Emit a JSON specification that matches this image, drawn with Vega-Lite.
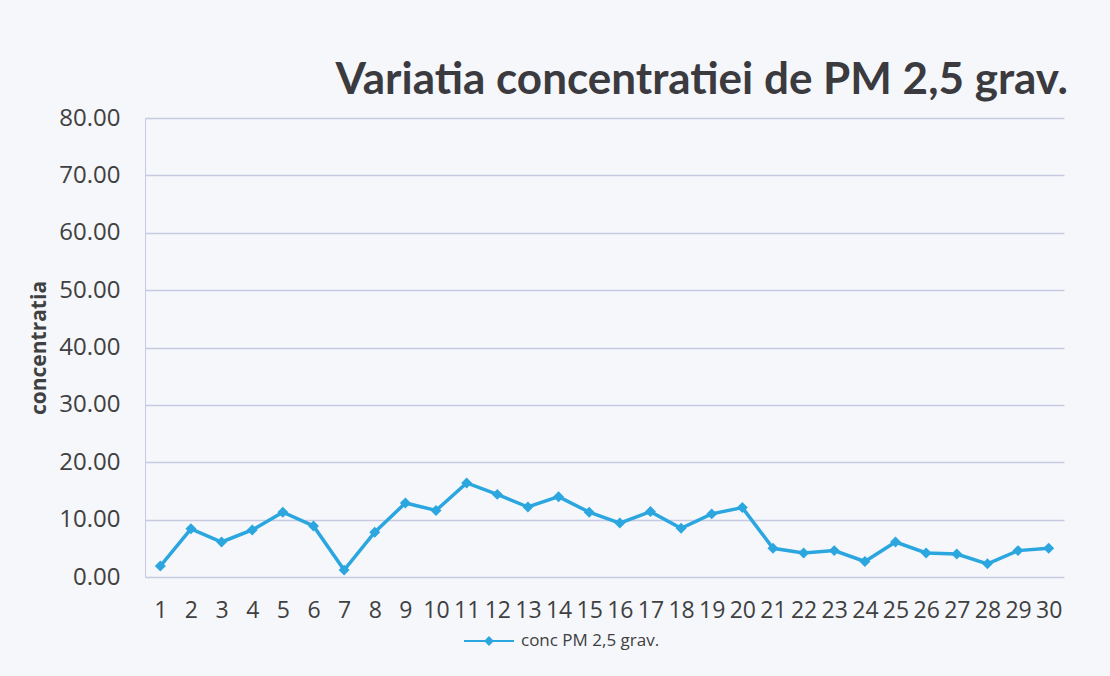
{
  "$schema": "https://vega.github.io/schema/vega-lite/v6.json",
  "autosize": {"type": "none"},
  "width": 919,
  "height": 459,
  "padding": {"left": 145, "top": 118, "right": 46, "bottom": 99},
  "background": "#f5f7fb",
  "title": {
    "text": "Variatia concentratiei de PM 2,5 grav.",
    "anchor": "end",
    "font": "Lato",
    "fontSize": 44,
    "fontWeight": "bold",
    "color": "#3a3a3f",
    "offset": 3,
    "dx": 4
  },
  "data": {
    "values": [
      {"day": 1, "conc": 1.9, "series": "conc PM 2,5 grav."},
      {"day": 2, "conc": 8.4, "series": "conc PM 2,5 grav."},
      {"day": 3, "conc": 6.1, "series": "conc PM 2,5 grav."},
      {"day": 4, "conc": 8.2, "series": "conc PM 2,5 grav."},
      {"day": 5, "conc": 11.3, "series": "conc PM 2,5 grav."},
      {"day": 6, "conc": 8.9, "series": "conc PM 2,5 grav."},
      {"day": 7, "conc": 1.2, "series": "conc PM 2,5 grav."},
      {"day": 8, "conc": 7.8, "series": "conc PM 2,5 grav."},
      {"day": 9, "conc": 12.9, "series": "conc PM 2,5 grav."},
      {"day": 10, "conc": 11.6, "series": "conc PM 2,5 grav."},
      {"day": 11, "conc": 16.4, "series": "conc PM 2,5 grav."},
      {"day": 12, "conc": 14.4, "series": "conc PM 2,5 grav."},
      {"day": 13, "conc": 12.2, "series": "conc PM 2,5 grav."},
      {"day": 14, "conc": 14.0, "series": "conc PM 2,5 grav."},
      {"day": 15, "conc": 11.3, "series": "conc PM 2,5 grav."},
      {"day": 16, "conc": 9.4, "series": "conc PM 2,5 grav."},
      {"day": 17, "conc": 11.4, "series": "conc PM 2,5 grav."},
      {"day": 18, "conc": 8.5, "series": "conc PM 2,5 grav."},
      {"day": 19, "conc": 11.0, "series": "conc PM 2,5 grav."},
      {"day": 20, "conc": 12.1, "series": "conc PM 2,5 grav."},
      {"day": 21, "conc": 5.0, "series": "conc PM 2,5 grav."},
      {"day": 22, "conc": 4.2, "series": "conc PM 2,5 grav."},
      {"day": 23, "conc": 4.6, "series": "conc PM 2,5 grav."},
      {"day": 24, "conc": 2.7, "series": "conc PM 2,5 grav."},
      {"day": 25, "conc": 6.1, "series": "conc PM 2,5 grav."},
      {"day": 26, "conc": 4.2, "series": "conc PM 2,5 grav."},
      {"day": 27, "conc": 4.0, "series": "conc PM 2,5 grav."},
      {"day": 28, "conc": 2.3, "series": "conc PM 2,5 grav."},
      {"day": 29, "conc": 4.6, "series": "conc PM 2,5 grav."},
      {"day": 30, "conc": 5.0, "series": "conc PM 2,5 grav."}
    ]
  },
  "encoding": {
    "x": {
      "field": "day",
      "type": "ordinal",
      "scale": {"type": "point", "padding": 0.5},
      "axis": {
        "title": null,
        "labelAngle": 0,
        "labelFont": "Open Sans",
        "labelFontSize": 23,
        "labelColor": "#404040",
        "labelPadding": 22,
        "ticks": false,
        "domain": false,
        "grid": false
      }
    },
    "y": {
      "field": "conc",
      "type": "quantitative",
      "scale": {"domain": [0, 80], "nice": false},
      "axis": {
        "title": "concentratia",
        "titleFont": "Open Sans",
        "titleFontSize": 21,
        "titleFontWeight": "bold",
        "titleColor": "#404040",
        "titlePadding": 9,
        "values": [0, 10, 20, 30, 40, 50, 60, 70, 80],
        "format": ".2f",
        "labelFont": "Open Sans",
        "labelFontSize": 24,
        "labelColor": "#404040",
        "labelPadding": 25,
        "ticks": false,
        "domain": true,
        "domainColor": "#c6c9e0",
        "gridColor": "#c6c9e0",
        "gridWidth": 1.5
      }
    },
    "color": {
      "field": "series",
      "type": "nominal",
      "scale": {"range": ["#2ba6df"]},
      "legend": {
        "title": null,
        "orient": "none",
        "legendX": 318,
        "legendY": 497,
        "symbolType": "M-1,0L1,0M-0.14,0L0,-0.14L0.14,0L0,0.14Z",
        "symbolSize": 2500,
        "symbolStrokeWidth": 2,
        "symbolFillColor": "#2ba6df",
        "symbolStrokeColor": "#2ba6df",
        "labelFont": "Open Sans",
        "labelFontSize": 17,
        "labelColor": "#404040",
        "labelOffset": 6
      }
    }
  },
  "layer": [
    {"mark": {"type": "line", "strokeWidth": 3.5}},
    {"mark": {"type": "point", "shape": "diamond", "filled": true, "size": 120, "opacity": 1}}
  ],
  "config": {
    "view": {"stroke": null}
  }
}
